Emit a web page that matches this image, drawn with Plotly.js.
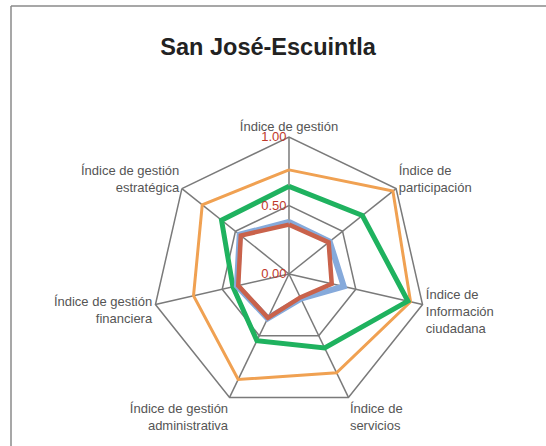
<!DOCTYPE html>
<html>
<head>
<meta charset="utf-8">
<script src="https://cdn.plot.ly/plotly-3.0.1.min.js"></script>
<style>
  body { margin: 0; background: #fff; }
  #chart { width: 546px; height: 446px; }
</style>
</head>
<body>
<div id="chart"></div>
<script>
// radar San José-Escuintla

const categories = [
  "Índice de gestión",
  "Índice de<br>participación",
  "Índice de<br>Información<br>ciudadana",
  "Índice de<br>servicios",
  "Índice de gestión<br>administrativa",
  "Índice de gestión<br>financiera",
  "Índice de gestión<br>estratégica",
];

// values, same order as categories
const serieNaranja = [0.76, 0.97, 0.91, 0.80, 0.855, 0.715, 0.81];
const serieVerde = [0.64, 0.685, 0.89, 0.60, 0.54, 0.42, 0.63];
const serieAzul = [0.38, 0.38, 0.41, 0.20, 0.36, 0.39, 0.46];
const serieRoja = [0.36, 0.37, 0.32, 0.19, 0.355, 0.38, 0.45];

const tickValues = [0, 0.5, 1];
const tickLabels = ["0.00", "0.50", "1.00"];

function closeLoop(arr) {
  return arr.concat([arr[0]]);
}

function plotRadar() {
  const theta = closeLoop(categories);

  const trace = [
    { r: closeLoop(serieNaranja), color: "#F0A152", width: 3, name: "Serie 1" },
    { r: closeLoop(serieVerde), color: "#1FB25F", width: 5, name: "Serie 2" },
    { r: closeLoop(serieAzul), color: "#86AADB", width: 6, name: "Serie 3" },
    { r: closeLoop(serieRoja), color: "#C9624B", width: 4.5, name: "Serie 4" },
  ].map((s) => ({
    type: "scatterpolar",
    r: s.r,
    theta: theta,
    mode: "lines",
    name: s.name,
    line: { color: s.color, width: s.width },
    hoverinfo: "skip",
  }));

  const layout = {
    width: 546,
    height: 446,
    margin: { l: 0, r: 0, t: 0, b: 0 },
    paper_bgcolor: "#fff",
    showlegend: false,
    font: { family: "Liberation Sans, Arial, sans-serif", color: "#555" },
    title: {
      text: "<b>San José-Escuintla</b>",
      font: { size: 23.5, color: "#222" },
      x: 0.491,
      xanchor: "center",
      y: 0.895,
      yanchor: "middle",
    },
    polar: {
      domain: { x: [0.2784, 0.7802], y: [0.0785, 0.6929] },
      gridshape: "linear",
      bgcolor: "rgba(0,0,0,0)",
      angularaxis: {
        direction: "clockwise",
        rotation: 90,
        showline: true,
        linecolor: "#7a7a7a",
        linewidth: 1.5,
        gridcolor: "#7a7a7a",
        gridwidth: 1.5,
        ticks: "",
        tickfont: { size: 13, color: "#555" },
      },
      radialaxis: {
        range: [0, 1],
        angle: 90,
        side: "counterclockwise",
        tickangle: 90,
        tickvals: tickValues,
        ticktext: tickLabels,
        showline: false,
        ticks: "",
        gridcolor: "#7a7a7a",
        gridwidth: 1.5,
        tickfont: { size: 13, color: "#C0392B" },
      },
    },
    shapes: [
      {
        type: "line", xref: "paper", yref: "paper",
        x0: 11 / 546, x1: 1.01, y0: 1 - 6 / 446, y1: 1 - 6 / 446,
        line: { color: "#8a8a8a", width: 1.5 },
      },
      {
        type: "line", xref: "paper", yref: "paper",
        x0: 11 / 546, x1: 11 / 546, y0: 1 - 6 / 446, y1: -0.01,
        line: { color: "#8a8a8a", width: 1.5 },
      },
    ],
  };

  Plotly.newPlot("chart", trace, layout, { displayModeBar: false, staticPlot: true });
}

plotRadar();
</script>
</body>
</html>
